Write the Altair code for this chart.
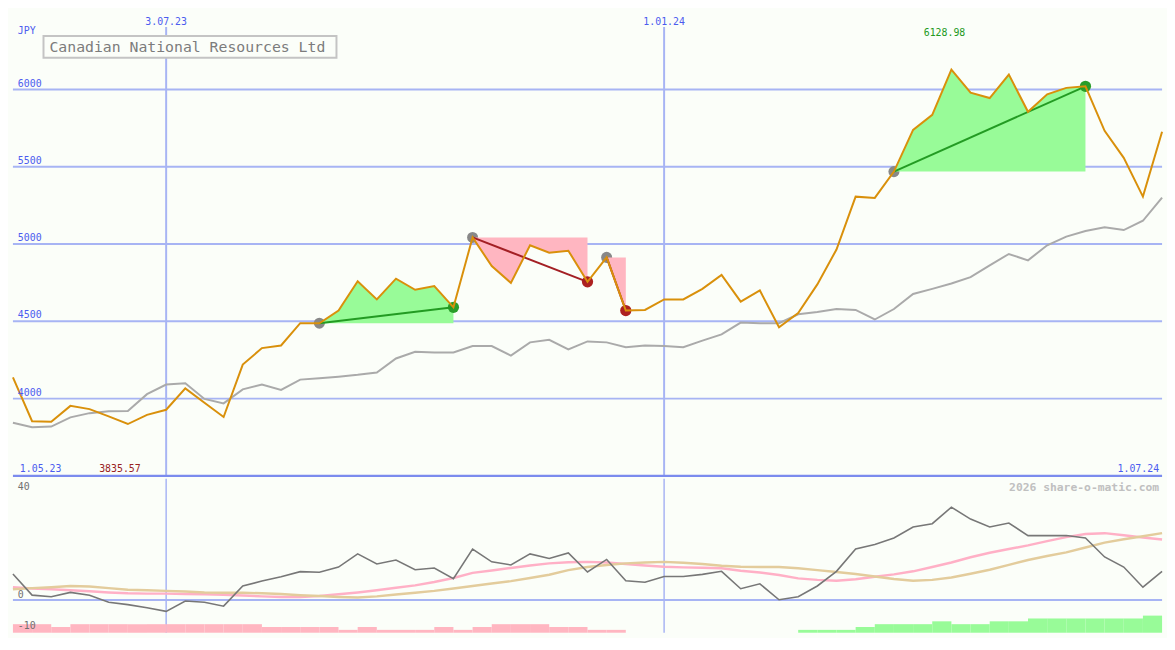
import altair as alt
import pandas as pd

# ---------------- data ----------------
dates = pd.date_range("2023-05-08", periods=61, freq="7D")

price = [4138, 3854, 3850, 3953, 3932, 3885, 3835.57, 3895, 3928, 4066,
         3973, 3881, 4220, 4327, 4344, 4488, 4488, 4570, 4759, 4642,
         4776, 4704, 4728, 4591, 5043, 4858, 4749, 4992, 4944, 4957,
         4756, 4914, 4570, 4574, 4642, 4642, 4710, 4801, 4628, 4700,
         4462, 4554, 4739, 4965, 5307, 5299, 5469, 5739, 5836, 6128.98,
         5980, 5945, 6097, 5856, 5969, 6011, 6021, 5733, 5558, 5307,
         5727]

ma = [3844, 3815, 3819, 3879, 3906, 3918, 3920, 4029, 4091, 4099,
      3998, 3969, 4060, 4091, 4056, 4123, 4132, 4142, 4154, 4169,
      4260, 4303, 4299, 4299, 4340, 4340, 4278, 4364, 4381, 4319,
      4370, 4364, 4333, 4344, 4340, 4333, 4375, 4416, 4492, 4488,
      4488, 4546, 4560, 4580, 4574, 4512, 4580, 4677, 4710, 4745,
      4786, 4862, 4936, 4895, 4992, 5048, 5085, 5109, 5091, 5151,
      5301]

osc = [8.5, 1.6, 1.1, 2.5, 1.6, -0.7, -1.5, -2.5, -3.7, -0.3,
       -0.7, -2.0, 4.6, 6.2, 7.6, 9.3, 9.1, 10.8, 15.1, 11.8,
       13.1, 9.9, 10.5, 7.0, 16.7, 12.5, 11.5, 15.1, 13.6, 15.4,
       9.2, 13.3, 6.3, 5.8, 7.7, 7.7, 8.4, 9.4, 3.7, 5.3,
       0.1, 1.1, 4.6, 9.4, 16.7, 18.2, 20.3, 23.9, 25.0, 30.4,
       26.5, 23.9, 25.2, 21.1, 21.1, 21.1, 20.3, 14.1, 10.8, 4.2,
       9.4]

osc_pink = [4.2, 3.8, 3.5, 3.2, 2.9, 2.5, 2.2, 2.1, 2.1, 2.0,
            1.9, 1.7, 1.5, 1.2, 1.0, 1.0, 1.3, 1.9, 2.5, 3.2,
            4.0, 4.8, 5.9, 7.2, 8.9, 9.7, 10.5, 11.3, 12.0, 12.4,
            12.5, 12.3, 11.8, 11.3, 10.9, 10.7, 10.6, 10.4, 9.6, 9.0,
            8.2, 7.1, 6.6, 6.3, 6.8, 7.6, 8.4, 9.4, 10.8, 12.3,
            14.0, 15.5, 16.7, 17.9, 19.3, 20.6, 21.6, 21.9, 21.2, 20.5,
            19.8]

osc_tan = [3.5, 3.9, 4.2, 4.6, 4.4, 3.9, 3.4, 3.2, 3.0, 2.8,
           2.5, 2.4, 2.4, 2.2, 2.0, 1.6, 1.3, 1.0, 0.8, 1.2,
           1.8, 2.4, 3.0, 3.8, 4.6, 5.4, 6.2, 7.2, 8.3, 9.8,
           10.8, 11.5, 12.0, 12.3, 12.5, 12.2, 11.8, 11.2, 10.9, 10.8,
           10.8, 10.4, 9.8, 9.2, 8.5, 7.7, 6.9, 6.3, 6.6, 7.4,
           8.6, 9.9, 11.5, 13.1, 14.4, 15.6, 17.2, 18.8, 19.9, 20.9,
           21.9]

hist = [-3, -3, -2, -3, -3, -3, -3, -3, -3, -3,
        -3, -3, -3, -2, -2, -2, -2, -1, -2, -1,
        -1, -1, -2, -1, -2, -3, -3, -3, -2, -2,
        -1, -1, 0, 0, 0, 0, 0, 0, 0, 0,
        0, 1, 1, 1, 2, 3, 3, 3, 4, 3,
        3, 4, 4, 5, 5, 5, 5, 5, 5, 6,
        6]

pattern_start = [16, 24, 31, 46]
pattern_end = [23, 30, 32, 56]
pattern_kind = ["up", "down", "down", "up"]

y_ticks = [4000, 4500, 5000, 5500, 6000]
y_tick_labels = ["4000", "4500", "5000", "5500", "6000"]
date_lines = ["2023-07-03", "2024-01-01"]
date_line_labels = ["3.07.23", "1.01.24"]
osc_ticks = [40, 0, -10]
osc_tick_labels = ["40", "0", "-10"]

title = "Canadian National Resources Ltd"

# ---------------- layout / style ----------------
W = 1165
H1 = 470
H2 = 157
BG = "#fbfef9"
GRID = "#a7b4f4"
BLUE_TXT = "#4b5cef"
MONO = "DejaVu Sans Mono"

FILL = {"up": "#98fb98", "down": "#ffb6c1"}
LINE = {"up": "#239b23", "down": "#a31f24"}
DOT = {"up": "#2a9d2a", "down": "#ad2121"}

xscale = alt.Scale(domain=[alt.DateTime(year=2023, month=5, date=8),
                           alt.DateTime(year=2024, month=7, date=1)])
yscale = alt.Scale(domain=[3500, 6500])
oscale = alt.Scale(domain=[-10.7, 40])

df = pd.DataFrame({"date": dates, "price": price, "ma": ma, "osc": osc,
                   "pink": osc_pink, "tan": osc_tan, "hist": hist})
# each histogram bar spans one week; the last one is cut at the chart's end
df["next"] = (df["date"] + pd.Timedelta(days=7)).clip(upper=dates[-1])
df["mag"] = df["hist"].abs()
df["col"] = [FILL["up"] if h > 0 else FILL["down"] for h in hist]

area_rows, trend_rows, start_rows, end_rows = [], [], [], []
for k, (s, e, kind) in enumerate(zip(pattern_start, pattern_end, pattern_kind)):
    for i in range(s, e + 1):
        area_rows.append({"date": dates[i], "price": price[i], "base": price[s],
                          "pid": k, "col": FILL[kind]})
    trend_rows.append({"date": dates[s], "price": price[s], "pid": k, "col": LINE[kind]})
    trend_rows.append({"date": dates[e], "price": price[e], "pid": k, "col": LINE[kind]})
    start_rows.append({"date": dates[s], "price": price[s]})
    end_rows.append({"date": dates[e], "price": price[e], "col": DOT[kind]})
area_df = pd.DataFrame(area_rows)
trend_df = pd.DataFrame(trend_rows)
start_df = pd.DataFrame(start_rows)
end_df = pd.DataFrame(end_rows)

X = alt.X("date:T", scale=xscale, axis=None)

ticks_df = pd.DataFrame({"v": y_ticks, "label": y_tick_labels})
dl_df = pd.DataFrame({"date": pd.to_datetime(date_lines), "label": date_line_labels})

imax = price.index(max(price))
imin = price.index(min(price))
ext_df = pd.DataFrame({"date": [dates[imax], dates[imin]],
                       "label": [f"{price[imax]:.2f}", f"{price[imin]:.2f}"]})

# ---------------- top panel ----------------
hgrid = alt.Chart(ticks_df).mark_rule(color=GRID, strokeWidth=2).encode(
    y=alt.Y("v:Q", scale=yscale, axis=None))
vgrid = alt.Chart(dl_df).mark_rule(color=GRID, strokeWidth=2).encode(
    x=X, y=alt.value(15), y2=alt.value(H1))
sep = alt.Chart(pd.DataFrame({"v": [3500]})).mark_rule(color="#7b8bee", strokeWidth=2.5).encode(
    y=alt.Y("v:Q", scale=yscale, axis=None))

start_pts = alt.Chart(start_df).mark_circle(size=125, color="#888888", opacity=1).encode(
    x=X, y=alt.Y("price:Q", scale=yscale, axis=None))
areas = alt.Chart(area_df).mark_area(opacity=1).encode(
    x=X, y=alt.Y("price:Q", scale=yscale, axis=None), y2="base:Q",
    color=alt.Color("col:N", scale=None), detail="pid:N")
end_pts = alt.Chart(end_df).mark_circle(size=130, opacity=1).encode(
    x=X, y=alt.Y("price:Q", scale=yscale, axis=None),
    color=alt.Color("col:N", scale=None))
ma_line = alt.Chart(df).mark_line(color="#aaaaaa", strokeWidth=2).encode(
    x=X, y=alt.Y("ma:Q", scale=yscale, axis=None))
trend = alt.Chart(trend_df).mark_line(strokeWidth=2).encode(
    x=X, y=alt.Y("price:Q", scale=yscale, axis=None),
    color=alt.Color("col:N", scale=None), detail="pid:N")
price_line = alt.Chart(df).mark_line(color="#d9900b", strokeWidth=2).encode(
    x=X, y=alt.Y("price:Q", scale=yscale, axis=None))

tick_txt = alt.Chart(ticks_df).mark_text(
    font=MONO, fontSize=10, color=BLUE_TXT, align="left", baseline="bottom", dy=-1).encode(
    x=alt.value(5), y=alt.Y("v:Q", scale=yscale, axis=None), text="label:N")
date_txt = alt.Chart(dl_df).mark_text(
    font=MONO, fontSize=10, color=BLUE_TXT, align="center", baseline="alphabetic").encode(
    x=X, y=alt.value(12.5), text="label:N")
max_txt = alt.Chart(ext_df.iloc[[0]]).mark_text(
    font=MONO, fontSize=10, color="#229922", align="center", baseline="alphabetic", dx=-7).encode(
    x=X, y=alt.value(24), text="label:N")
min_txt = alt.Chart(ext_df.iloc[[1]]).mark_text(
    font=MONO, fontSize=10, color="#992222", align="center", baseline="alphabetic", dx=-8).encode(
    x=X, y=alt.value(H1 - 4), text="label:N")
corner_df = pd.DataFrame({"label": ["JPY", "1.05.23", "1.07.24"],
                          "px": [5, 7, W - 3], "py": [22, H1 - 4, H1 - 4]})
left_txt = alt.Chart(corner_df.iloc[[0, 1]]).mark_text(
    font=MONO, fontSize=10, color=BLUE_TXT, align="left", baseline="alphabetic").encode(
    x=alt.X("px:Q", scale=None), y=alt.Y("py:Q", scale=None), text="label:N")
right_txt = alt.Chart(corner_df.iloc[[2]]).mark_text(
    font=MONO, fontSize=10, color=BLUE_TXT, align="right", baseline="alphabetic").encode(
    x=alt.X("px:Q", scale=None), y=alt.Y("py:Q", scale=None), text="label:N")

title_box = alt.Chart(pd.DataFrame({"t": [title]})).mark_rect(
    fill=BG, stroke="#c4c4c4", strokeWidth=2).encode(
    x=alt.value(31), x2=alt.value(328), y=alt.value(24), y2=alt.value(46))
title_txt = alt.Chart(pd.DataFrame({"t": [title]})).mark_text(
    font=MONO, fontSize=15, color="#7c7c7c", align="left", baseline="middle").encode(
    x=alt.value(37), y=alt.value(35.5), text="t:N")

top = alt.layer(
    hgrid, vgrid, sep, start_pts, areas, end_pts, ma_line, trend, price_line,
    tick_txt, date_txt, max_txt, min_txt, left_txt, right_txt, title_box, title_txt
).properties(width=W, height=H1)

# ---------------- bottom panel ----------------
zero = alt.Chart(pd.DataFrame({"v": [0]})).mark_rule(color=GRID, strokeWidth=2).encode(
    y=alt.Y("v:Q", scale=oscale, axis=None))
vgrid2 = alt.Chart(dl_df).mark_rule(color=GRID, strokeWidth=1.5).encode(
    x=X, y=alt.value(1), y2=alt.value(H2))
bars = alt.Chart(df[df["hist"] != 0]).mark_rect(opacity=1).encode(
    x=X, x2="next:T",
    y=alt.Y("mag:Q", scale=alt.Scale(domain=[0, 163 / 3.0]), axis=None),
    y2=alt.datum(0),
    color=alt.Color("col:N", scale=None))
pink_line = alt.Chart(df).mark_line(color="#ffb0c6", strokeWidth=2.5).encode(
    x=X, y=alt.Y("pink:Q", scale=oscale, axis=None))
tan_line = alt.Chart(df).mark_line(color="#e3cc9c", strokeWidth=2.5).encode(
    x=X, y=alt.Y("tan:Q", scale=oscale, axis=None))
osc_line = alt.Chart(df).mark_line(color="#777777", strokeWidth=1.6).encode(
    x=X, y=alt.Y("osc:Q", scale=oscale, axis=None))

otick_df = pd.DataFrame({"v": osc_ticks, "label": osc_tick_labels})
otick_top = alt.Chart(otick_df.iloc[[0]]).mark_text(
    font=MONO, fontSize=10, color="#707070", align="left", baseline="alphabetic", dy=12).encode(
    x=alt.value(5), y=alt.Y("v:Q", scale=oscale, axis=None), text="label:N")
otick_rest = alt.Chart(otick_df.iloc[[1, 2]]).mark_text(
    font=MONO, fontSize=10, color="#707070", align="left", baseline="alphabetic", dy=-2).encode(
    x=alt.value(5), y=alt.Y("v:Q", scale=oscale, axis=None), text="label:N")
wm = alt.Chart(pd.DataFrame({"t": ["2026 share-o-matic.com"]})).mark_text(
    font=MONO, fontSize=11.5, fontWeight="bold", color="#c0c0c0", align="right",
    baseline="alphabetic").encode(x=alt.value(W - 3), y=alt.value(13.5), text="t:N")

bottom = alt.layer(
    zero, vgrid2, bars, pink_line, tan_line, osc_line, otick_top, otick_rest, wm
).resolve_scale(y="independent").properties(width=W, height=H2)

chart = alt.vconcat(top, bottom, spacing=0).properties(
    padding=0, background=BG
).configure_view(strokeWidth=0)

chart.save("out.html", embed_options={"renderer": "svg", "actions": False})
